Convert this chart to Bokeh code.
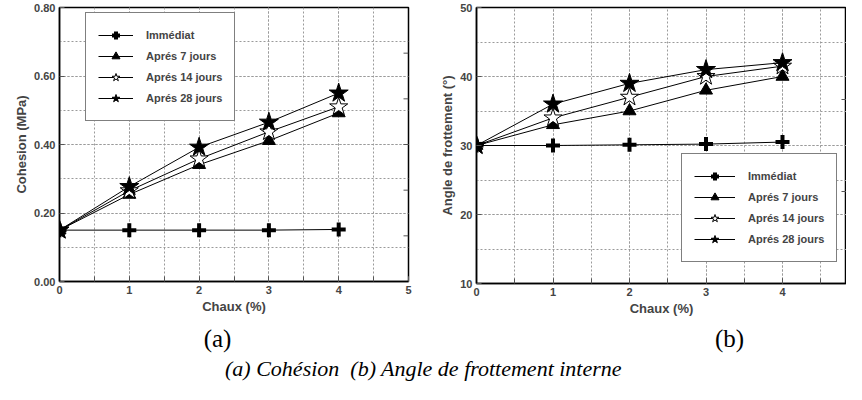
from bokeh.plotting import figure
from bokeh.layouts import column, row
from bokeh.models import (Range1d, SingleIntervalTicker, NumeralTickFormatter,
                          Legend, LegendItem, Label)
from bokeh.embed import file_html
from bokeh.resources import INLINE

# ---------------- data ----------------
chaux = [0, 1, 2, 3, 4]
series_names = ["Immédiat", "Aprés 7 jours", "Aprés 14 jours", "Aprés 28 jours"]

coh_immediat = [0.15, 0.15, 0.15, 0.15, 0.152]
coh_7j = [0.15, 0.254, 0.341, 0.411, 0.492]
coh_14j = [0.15, 0.265, 0.358, 0.437, 0.510]
coh_28j = [0.15, 0.277, 0.392, 0.465, 0.550]

ang_immediat = [30.0, 30.0, 30.1, 30.2, 30.5]
ang_7j = [30.0, 33.0, 35.0, 38.0, 40.0]
ang_14j = [30.0, 34.0, 37.0, 40.0, 41.5]
ang_28j = [30.0, 36.0, 39.0, 41.0, 42.0]

x_label = "Chaux (%)"
y_label_a = "Cohesion (MPa)"
y_label_b = "Angle de frottement (°)"
panel_a = "(a)"
panel_b = "(b)"
caption = "(a) Cohésion\u00a0 (b) Angle de frottement interne"

SANS = "Liberation Sans"
SERIF = "Liberation Serif"

marker_styles = [
    dict(marker="cross", size=14, line_width=4, fill_color="black"),
    dict(marker="triangle", size=13, line_width=1, fill_color="black"),
    dict(marker="star", size=19, line_width=1, fill_color="white"),
    dict(marker="star", size=20, line_width=1, fill_color="black"),
]


def style(p, yint, yfmt, right_ticks, fw):
    p.outline_line_color = "black"
    p.outline_line_width = 1.5
    p.xaxis.ticker = SingleIntervalTicker(interval=1, num_minor_ticks=2)
    p.yaxis.ticker = SingleIntervalTicker(interval=yint, num_minor_ticks=2)
    if yfmt:
        p.yaxis.formatter = NumeralTickFormatter(format=yfmt)
    for ax in (p.xaxis[0], p.yaxis[0]):
        ax.axis_line_color = "black"
        ax.axis_line_width = 1.5
        ax.major_tick_in = 5
        ax.major_tick_out = 0
        ax.major_tick_line_color = "#555555"
        ax.minor_tick_in = 5
        ax.minor_tick_out = 0
        ax.minor_tick_line_color = "#555555"
        ax.major_label_text_font = SANS
        ax.major_label_text_font_style = "bold"
        ax.major_label_text_font_size = "11px"
        ax.major_label_standoff = 4
        ax.axis_label_text_font = SANS
        ax.axis_label_text_font_style = "bold"
        ax.axis_label_text_font_size = "13px"
        ax.axis_label_standoff = 2
    p.yaxis.minor_tick_line_color = None
    for g in (p.xgrid[0], p.ygrid[0]):
        g.grid_line_color = "#9a9a9a"
        g.grid_line_dash = "2 2"
        g.grid_line_width = 1
        g.minor_grid_line_color = "#9a9a9a"
        g.minor_grid_line_dash = "2 2"
        g.minor_grid_line_width = 1
    # small inward tick marks on the right edge of the frame
    xr = p.x_range
    tick_len = 5 * (xr.end - xr.start) / fw
    n = len(right_ticks)
    p.segment(x0=[xr.end - tick_len] * n, x1=[xr.end] * n, y0=right_ticks, y1=right_ticks,
              line_color="#555555", line_width=1)


def add_series(p, ys_list):
    items = []
    for name, ys, ms in zip(series_names, ys_list, marker_styles):
        r1 = p.line(chaux, ys, line_color="black", line_width=1)
        r2 = p.scatter(chaux, ys, marker=ms["marker"], size=ms["size"],
                       line_color="black", line_width=ms["line_width"],
                       fill_color=ms["fill_color"])
        items.append(LegendItem(label=name, renderers=[r1, r2]))
    return items


def make_legend(items, loc, glyph_w):
    lg = Legend(items=items, location=loc)
    lg.border_line_color = "black"
    lg.border_line_width = 1
    lg.background_fill_color = "white"
    lg.background_fill_alpha = 1
    lg.label_text_font = SANS
    lg.label_text_font_style = "bold"
    lg.label_text_font_size = "11px"
    lg.glyph_width = glyph_w
    lg.glyph_height = 20
    lg.label_height = 20
    lg.label_standoff = 13
    lg.spacing = 1
    lg.padding = 12
    lg.margin = 0
    return lg


# ---------------- panel (a) ----------------
FW1 = 349
p1 = figure(frame_width=FW1, frame_height=274, output_backend="svg", toolbar_location=None,
            x_range=Range1d(0, 5), y_range=Range1d(0, 0.8),
            min_border_left=59, min_border_right=10, min_border_top=7, min_border_bottom=36,
            x_axis_label=x_label, y_axis_label=y_label_a)
style(p1, 0.2, "0.00", [0.8 * k / 6 for k in range(1, 6)], FW1)
items1 = add_series(p1, [coh_immediat, coh_7j, coh_14j, coh_28j])
p1.add_layout(make_legend(items1, (26, 160), 35), "center")

# ---------------- panel (b) ----------------
FW2 = 370
p2 = figure(frame_width=FW2, frame_height=276, output_backend="svg", toolbar_location=None,
            x_range=Range1d(0, FW2 / 76.5), y_range=Range1d(10, 50),
            min_border_left=58, min_border_right=0, min_border_top=5, min_border_bottom=36,
            x_axis_label=x_label, y_axis_label=y_label_b)
style(p2, 10, None, [10 + 40 / 3, 10 + 80 / 3], FW2)
items2 = add_series(p2, [ang_immediat, ang_7j, ang_14j, ang_28j])
p2.add_layout(make_legend(items2, (205, 21), 41), "center")

# ---------------- caption strip ----------------
cap = figure(width=846, height=67, output_backend="svg", toolbar_location=None,
             x_range=Range1d(0, 1), y_range=Range1d(0, 1), min_border=0)
cap.axis.visible = False
cap.grid.visible = False
cap.outline_line_color = None
for txt, x, y, st, fs in [(panel_a, 217, 46, "normal", "25px"),
                          (panel_b, 729, 46, "normal", "25px"),
                          (caption, 423, 16, "italic", "22px")]:
    cap.add_layout(Label(x=x, y=y, x_units="screen", y_units="screen", text=txt,
                         text_align="center", text_baseline="middle",
                         text_font=SERIF, text_font_style=st, text_font_size=fs,
                         text_color="black"))

layout = column(row(p1, p2), cap)
open("out.html", "w").write(file_html(layout, INLINE))
